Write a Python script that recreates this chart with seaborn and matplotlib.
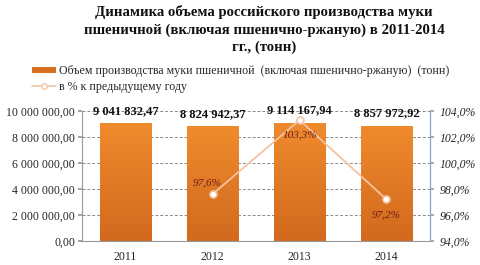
import numpy as np
import pandas as pd
import matplotlib
matplotlib.use("Agg")
import matplotlib.pyplot as plt
import matplotlib.ticker as mticker
from matplotlib.colors import LinearSegmentedColormap
from matplotlib.patches import Patch
from matplotlib.lines import Line2D
import seaborn as sns

years = ["2011", "2012", "2013", "2014"]
volume = [9041832.47, 8824942.37, 9114167.94, 8857972.92]
pct_years = ["2012", "2013", "2014"]
pct = [97.6, 103.3, 97.2]
title = "Динамика объема российского производства муки\nпшеничной (включая пшенично-ржаную) в 2011-2014\nгг., (тонн)"
bar_label = "Объем производства муки пшеничной  (включая пшенично-ржаную)  (тонн)"
line_label = "в % к предыдущему году"

sns.set_theme(style="white")
plt.rcParams["font.family"] = ["Liberation Serif", "DejaVu Serif"]

df = pd.DataFrame({"year": years, "volume": volume})

fig = plt.figure(figsize=(4.8, 2.65), dpi=100)
ax = fig.add_axes([82/480, 1-241/265, (430-82)/480, (241-111)/265])

sns.barplot(data=df, x="year", y="volume", color="#E07A25", width=0.59, ax=ax,
            saturation=1, edgecolor="none")

# gradient on bars
cmap = LinearSegmentedColormap.from_list("g", ["#D2691E", "#EF8B2D"])
grad = np.linspace(0, 1, 256).reshape(-1, 1)
for p in ax.patches:
    x0, y0 = p.get_x(), p.get_y()
    w, h = p.get_width(), p.get_height()
    im = ax.imshow(grad, extent=[x0, x0 + w, y0, y0 + h], origin="lower",
                   cmap=cmap, aspect="auto", zorder=p.get_zorder() + 0.1)
    im.set_clip_path(p)

ax.set_xlim(-0.5, 3.5)
ax.set_ylim(0, 10_000_000)
ax.set_yticks(np.arange(0, 10_000_001, 2_000_000))
ax.yaxis.set_major_formatter(mticker.FuncFormatter(
    lambda v, _: f"{v:,.2f}".replace(",", " ").replace(".", ",")))
ax.grid(axis="y", color="#8a8a8a", linestyle=(0, (3, 2)), linewidth=0.7)
ax.set_axisbelow(True)
ax.set_xlabel("")
ax.set_ylabel("")
ax.tick_params(axis="y", labelsize=8.5, length=3, color="#999999", direction="out", left=True, pad=2)
ax.tick_params(axis="x", labelsize=8.5, length=0, pad=7)
for s in ["top", "right"]:
    ax.spines[s].set_visible(False)
for s in ["left", "bottom"]:
    ax.spines[s].set_color("#9a9a9a")
    ax.spines[s].set_linewidth(0.8)

for i, v in enumerate(volume):
    ax.text(i, v + 480000, f"{v:,.2f}".replace(",", " ").replace(".", ","),
            ha="center", va="bottom", fontsize=9, fontweight="bold", color="#111111",
            clip_on=False)

ax2 = ax.twinx()
ldf = pd.DataFrame({"x": [years.index(y) for y in pct_years], "pct": pct})
sns.lineplot(data=ldf, x="x", y="pct", ax=ax2, color="#F4C3A0", linewidth=1.3,
             marker="o", markersize=5, markerfacecolor="white",
             markeredgecolor="#F4C3A0", markeredgewidth=1.2)
ax2.set_xlim(-0.5, 3.5)
ax2.set_ylim(94, 104)
ax2.set_yticks(np.arange(94, 104.1, 2))
ax2.yaxis.set_major_formatter(mticker.FuncFormatter(lambda v, _: f"{v:.1f}%".replace(".", ",")))
ax2.set_ylabel("")
ax2.tick_params(axis="y", labelsize=8.5, length=3, color="#8EA3BC", direction="out", right=True, pad=4)
for lbl in ax2.get_yticklabels():
    lbl.set_fontstyle("italic")
for s in ["top", "left", "bottom"]:
    ax2.spines[s].set_visible(False)
ax2.spines["right"].set_color("#8EA3BC")
ax2.spines["right"].set_linewidth(0.9)

offsets = [(-0.06, 0.9), (0.0, -1.1), (0.0, -1.2)]
for (xi, v), (dx, dy) in zip(zip(ldf["x"], pct), offsets):
    ax2.text(xi + dx, v + dy, f"{v:.1f}%".replace(".", ","), ha="center", va="center",
             fontsize=8, fontstyle="italic", color="#6B1A1A")

fig.text(0.55, 1-5/265, title, ha="center", va="top", fontsize=10.6, fontweight="bold",
         linespacing=1.4, color="#111111")

handles = [Patch(facecolor="#D97020", edgecolor="none"),
           Line2D([0], [0], color="#F4C3A0", marker="o", markerfacecolor="white",
                  markeredgecolor="#F4C3A0", markersize=4, linewidth=1.2)]
fig.legend(handles, [bar_label, line_label], loc="upper left", bbox_to_anchor=(32/480, 1-65/265),
           frameon=False, fontsize=8.6, handlelength=2.0, handleheight=0.45, handletextpad=0.3,
           labelspacing=0.3, borderpad=0, borderaxespad=0)

fig.savefig("out.png", dpi=100)
